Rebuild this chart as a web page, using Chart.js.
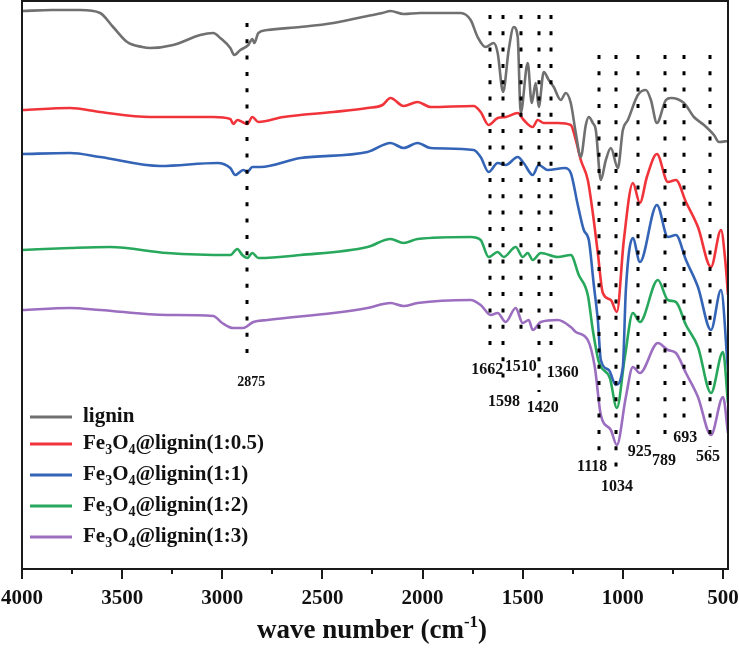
<!DOCTYPE html>
<html>
<head>
<meta charset="utf-8">
<script src="https://cdn.jsdelivr.net/npm/chart.js@4.4.1/dist/chart.umd.min.js"></script>
<style>
  html, body { margin: 0; padding: 0; background: #fff; }
  #wrap { width: 739px; height: 663px; }
</style>
</head>
<body>
<div id="wrap"><canvas id="chartFtir" width="739" height="663"></canvas></div>
<script>
// FTIR spectra, wavenumber (cm-1) vs. offset transmittance (a.u.)
var seriesNames = ["lignin", "Fe3O4@lignin(1:0.5)", "Fe3O4@lignin(1:1)", "Fe3O4@lignin(1:2)", "Fe3O4@lignin(1:3)"];
var seriesColors = ["rgb(112,112,112)", "rgb(240,52,58)", "rgb(52,100,182)", "rgb(40,168,92)", "rgb(155,110,192)"];

var ligninWave = [4000, 3850, 3710, 3610, 3545, 3475, 3400, 3360, 3245, 3110, 3045, 3010, 2960, 2940, 2910, 2870, 2850, 2840, 2820, 2775, 2610, 2445, 2275, 2200, 2160, 2095, 2010, 1810, 1760, 1725, 1685, 1645, 1625, 1598, 1570, 1545, 1525, 1510, 1475, 1455, 1435, 1420, 1395, 1370, 1345, 1310, 1285, 1260, 1235, 1210, 1185, 1170, 1150, 1135, 1110, 1085, 1060, 1025, 1000, 975, 925, 885, 860, 830, 785, 760, 695, 645, 595, 545, 520, 475];
var ligninT = [558, 559, 559, 556, 542, 527, 522, 521, 524, 534, 536, 531, 521, 514, 519, 524, 530, 526, 536, 539, 542, 546, 553, 556, 558, 555, 556, 556, 549, 532, 522, 526, 516, 477, 519, 542, 532, 456, 506, 466, 486, 462, 497, 489, 482, 469, 476, 466, 436, 412, 444, 452, 446, 439, 389, 409, 421, 401, 439, 449, 474, 479, 469, 446, 469, 471, 466, 452, 444, 434, 427, 428];

var fe05Wave = [4000, 3760, 3610, 3360, 3045, 2960, 2945, 2925, 2900, 2875, 2850, 2820, 2695, 2445, 2275, 2200, 2160, 2095, 2025, 1960, 1745, 1710, 1670, 1625, 1585, 1525, 1495, 1450, 1425, 1395, 1325, 1260, 1235, 1210, 1175, 1150, 1125, 1100, 1060, 1030, 995, 950, 915, 880, 830, 775, 735, 685, 625, 560, 510, 488, 475];
var fe05T = [459, 461, 457, 452, 452, 450, 445, 449, 447, 445, 452, 447, 452, 457, 461, 464, 471, 463, 467, 462, 463, 457, 444, 451, 452, 456, 449, 442, 449, 446, 446, 444, 429, 409, 389, 356, 316, 276, 269, 257, 329, 386, 366, 392, 415, 387, 389, 367, 342, 302, 339, 307, 274];

var fe1Wave = [4000, 3760, 3610, 3310, 3025, 2960, 2935, 2895, 2875, 2850, 2810, 2610, 2275, 2160, 2095, 2025, 1960, 1745, 1710, 1670, 1625, 1585, 1525, 1495, 1450, 1420, 1375, 1290, 1260, 1225, 1195, 1170, 1145, 1125, 1110, 1070, 1035, 1000, 985, 950, 915, 830, 775, 735, 685, 625, 560, 510, 475];
var fe1T = [415, 416, 412, 403, 406, 401, 394, 399, 397, 402, 402, 411, 417, 426, 421, 426, 421, 419, 412, 397, 406, 404, 412, 406, 394, 404, 399, 401, 396, 364, 339, 329, 284, 249, 209, 199, 184, 202, 279, 331, 307, 364, 332, 334, 309, 282, 239, 279, 199];

var fe2Wave = [4000, 3760, 3560, 3275, 2960, 2925, 2900, 2875, 2850, 2820, 2610, 2275, 2160, 2095, 2025, 1760, 1710, 1670, 1625, 1595, 1535, 1500, 1475, 1450, 1410, 1325, 1260, 1220, 1175, 1150, 1120, 1065, 1030, 990, 950, 915, 825, 775, 735, 685, 625, 560, 500, 475];
var fe2T = [319, 321, 322, 316, 314, 320, 314, 311, 316, 311, 314, 322, 330, 326, 330, 332, 329, 312, 317, 312, 322, 312, 316, 309, 316, 312, 314, 294, 274, 239, 207, 191, 161, 212, 256, 247, 289, 269, 267, 244, 222, 176, 217, 166];

var fe3Wave = [4000, 3760, 3610, 3275, 3045, 3000, 2945, 2895, 2845, 2775, 2445, 2275, 2160, 2095, 2025, 1760, 1710, 1660, 1625, 1585, 1535, 1500, 1470, 1450, 1410, 1325, 1260, 1235, 1175, 1140, 1110, 1060, 1030, 985, 950, 915, 825, 775, 735, 685, 625, 560, 500, 475];
var fe3T = [259, 261, 259, 254, 253, 246, 241, 241, 247, 249, 256, 261, 266, 263, 266, 269, 264, 254, 256, 247, 261, 246, 249, 239, 247, 249, 242, 237, 229, 202, 154, 139, 124, 172, 202, 196, 226, 219, 216, 196, 172, 134, 172, 136];

var tickValues = [4000, 3500, 3000, 2500, 2000, 1500, 1000, 500];
var peakWaves = [2875, 1662, 1598, 1510, 1420, 1360, 1118, 1034, 925, 789, 693, 565];
var peakLabels = ["2875", "1662", "1598", "1510", "1420", "1360", "1118", "1034", "925", "789", "693", "565"];

// where the dotted lines run and where their labels sit (y in a.u., dx in px)
var peakLayout = [
    { top: 546, bottom: 207, labelY: 187, dx: 4, size: 14 },
    { top: 554, bottom: 212, labelY: 199, dx: -3, size: 16 },
    { top: 554, bottom: 179, labelY: 167, dx: 1, size: 16 },
    { top: 554, bottom: 229, labelY: 202, dx: 0, size: 16 },
    { top: 554, bottom: 177, labelY: 161, dx: 4, size: 16 },
    { top: 554, bottom: 212, labelY: 196, dx: 12, size: 16 },
    { top: 514, bottom: 109, labelY: 102, dx: -7, size: 16 },
    { top: 514, bottom: 94, labelY: 82, dx: 1, size: 16 },
    { top: 514, bottom: 127, labelY: 117, dx: 2, size: 16 },
    { top: 514, bottom: 124, labelY: 108, dx: -1, size: 16 },
    { top: 514, bottom: 141, labelY: 131, dx: 1, size: 16 },
    { top: 514, bottom: 122, labelY: 112, dx: -2, size: 16 }
];

var serif = '"Liberation Serif", "Times New Roman", serif';

function toPoints(waves, values) {
    var pts = [];
    for (var i = 0; i < waves.length; i++) {
        pts.push({ x: waves[i], y: values[i] });
    }
    return pts;
}

var allWaves = [ligninWave, fe05Wave, fe1Wave, fe2Wave, fe3Wave];
var allValues = [ligninT, fe05T, fe1T, fe2T, fe3T];

var datasets = [];
for (var s = 0; s < seriesNames.length; s++) {
    datasets.push({
        label: seriesNames[s],
        data: toPoints(allWaves[s], allValues[s]),
        borderColor: seriesColors[s],
        backgroundColor: seriesColors[s],
        borderWidth: 2.6,
        pointRadius: 0,
        cubicInterpolationMode: 'monotone',
        fill: false
    });
}

// draws text like Fe3O4 with real subscripts
function drawChemText(ctx, text, x, y, size, subSize, subShift) {
    var parts = text.split(/(\d(?=O|@))/);
    var cx = x;
    for (var i = 0; i < parts.length; i++) {
        var p = parts[i];
        if (p === '') continue;
        var isSub = /^\d$/.test(p) && i % 2 === 1;
        ctx.font = 'bold ' + (isSub ? subSize : size) + 'px ' + serif;
        ctx.fillText(p, cx, isSub ? y + subShift : y);
        cx += ctx.measureText(p).width;
    }
}

var decorPlugin = {
    id: 'decor',
    afterDatasetsDraw: function(chart) {
        var ctx = chart.ctx;
        var xs = chart.scales.x;
        var ys = chart.scales.y;
        ctx.save();
        // dotted peak markers
        ctx.strokeStyle = '#000';
        ctx.lineWidth = 3;
        ctx.setLineDash([4, 12.3]);
        for (var i = 0; i < peakWaves.length; i++) {
            var px = Math.round(xs.getPixelForValue(peakWaves[i]));
            var lay = peakLayout[i];
            ctx.beginPath();
            ctx.moveTo(px, ys.getPixelForValue(lay.top));
            ctx.lineTo(px, ys.getPixelForValue(lay.bottom));
            ctx.stroke();
        }
        ctx.setLineDash([]);
        ctx.fillStyle = '#111';
        ctx.textAlign = 'center';
        ctx.textBaseline = 'middle';
        for (var j = 0; j < peakWaves.length; j++) {
            var l = peakLayout[j];
            ctx.font = 'bold ' + l.size + 'px ' + serif;
            ctx.fillText(peakLabels[j], xs.getPixelForValue(peakWaves[j]) + l.dx, ys.getPixelForValue(l.labelY));
        }
        ctx.restore();
    },
    afterDraw: function(chart) {
        var ctx = chart.ctx;
        var a = chart.chartArea;
        var xs = chart.scales.x;
        ctx.save();
        // frame
        ctx.strokeStyle = '#1a1a1a';
        ctx.lineWidth = 2;
        ctx.strokeRect(a.left, a.top, a.right - a.left, a.bottom - a.top);
        // major and minor ticks, outward
        ctx.lineWidth = 2;
        for (var v = 4000; v >= 500; v -= 250) {
            var px = Math.round(xs.getPixelForValue(v));
            ctx.beginPath();
            ctx.moveTo(px, a.bottom);
            ctx.lineTo(px, a.bottom + (v % 500 === 0 ? 10 : 5));
            ctx.stroke();
        }
        // axis title with superscript
        ctx.fillStyle = '#111';
        ctx.textBaseline = 'alphabetic';
        ctx.textAlign = 'left';
        var big = 'bold 27px ' + serif;
        var sup = 'bold 17px ' + serif;
        ctx.font = big;
        var w1 = ctx.measureText('wave number (cm').width;
        var w3 = ctx.measureText(')').width;
        ctx.font = sup;
        var w2 = ctx.measureText('-1').width;
        var tx = (a.left + a.right) / 2 - (w1 + w2 + w3) / 2 - 3;
        var ty = 638;
        ctx.font = big;
        ctx.fillText('wave number (cm', tx, ty);
        ctx.font = sup;
        ctx.fillText('-1', tx + w1, ty - 11);
        ctx.font = big;
        ctx.fillText(')', tx + w1 + w2, ty);
        // legend
        var legendY = [417, 444, 475, 506, 537];
        ctx.textBaseline = 'middle';
        for (var i = 0; i < chart.data.datasets.length; i++) {
            var ds = chart.data.datasets[i];
            ctx.strokeStyle = ds.borderColor;
            ctx.lineWidth = 3;
            ctx.beginPath();
            ctx.moveTo(30, legendY[i]);
            ctx.lineTo(72, legendY[i]);
            ctx.stroke();
            ctx.fillStyle = '#111';
            drawChemText(ctx, ds.label, 83, legendY[i], 21, 14, 6);
        }
        ctx.restore();
    }
};

var ftirChart = new Chart(document.getElementById('chartFtir').getContext('2d'), {
    type: 'line',
    data: { datasets: datasets },
    options: {
        responsive: false,
        animation: false,
        layout: { padding: { left: 22, right: 11, top: 1, bottom: 0 } },
        plugins: {
            legend: { display: false },
            tooltip: { enabled: false }
        },
        scales: {
            x: {
                type: 'linear',
                reverse: true,
                min: 475,
                max: 4000,
                afterBuildTicks: function(scale) {
                    scale.ticks = tickValues.map(function(v) { return { value: v }; });
                },
                afterFit: function(scale) {
                    scale.height = 94;
                    scale.paddingLeft = 0;
                    scale.paddingRight = 0;
                },
                grid: { display: false, drawTicks: false },
                border: { display: false },
                ticks: {
                    color: '#111',
                    padding: 17,
                    maxRotation: 0,
                    autoSkip: false,
                    font: { family: serif, size: 21, weight: 'bold' },
                    callback: function(value) { return String(value); }
                }
            },
            y: {
                type: 'linear',
                display: false,
                min: 0,
                max: 568
            }
        }
    },
    plugins: [decorPlugin]
});
</script>
</body>
</html>
